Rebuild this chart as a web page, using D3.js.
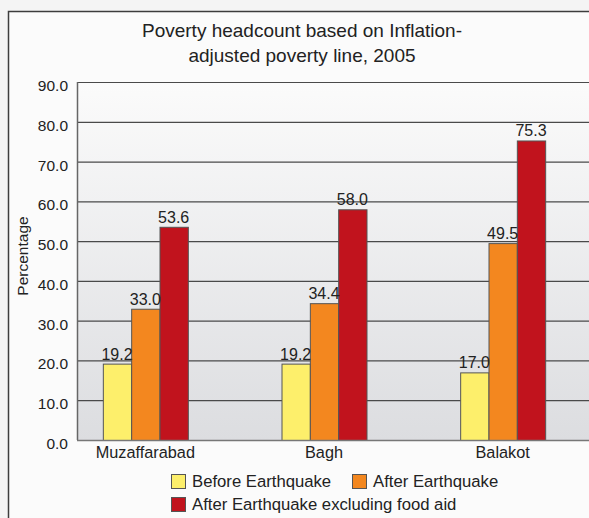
<!DOCTYPE html>
<html>
<head>
<meta charset="utf-8">
<script src="https://cdn.jsdelivr.net/npm/d3@7"></script>
<style>
  html, body { margin: 0; padding: 0; background: #f4f4f4; }
  svg { display: block; font-family: "Liberation Sans", Arial, sans-serif; }
</style>
</head>
<body>
<div id="chart"></div>
<script>
// Poverty headcount, inflation-adjusted poverty line, 2005

const width = 589, height = 518;

const categories = ["Muzaffarabad", "Bagh", "Balakot"];
const seriesNames = ["Before Earthquake", "After Earthquake", "After Earthquake excluding food aid"];
const beforeQuake = [19.2, 19.2, 17.0];
const afterQuake = [33.0, 34.4, 49.5];
const afterNoFoodAid = [53.6, 58.0, 75.3];
const yTicks = [0, 10, 20, 30, 40, 50, 60, 70, 80, 90];
const colors = ["#fdef6b", "#f3871f", "#c1131d"];

const plot = { left: 77, top: 82, bottom: 440, right: 600 };

const svg = d3.select("#chart")
  .append("svg")
  .attr("width", width)
  .attr("height", height);

const defs = svg.append("defs");
const grad = defs.append("linearGradient")
  .attr("id", "plotbg")
  .attr("x1", 0).attr("y1", 0).attr("x2", 0).attr("y2", 1);
grad.append("stop").attr("offset", "0%").attr("stop-color", "#fbfbfb");
grad.append("stop").attr("offset", "100%").attr("stop-color", "#dcdde0");

// outer frame
svg.append("rect")
  .attr("x", 8.5).attr("y", 11.5)
  .attr("width", 640).attr("height", 540)
  .attr("fill", "#fbfbfb")
  .attr("stroke", "#3d3d3d")
  .attr("stroke-width", 1.5);

// title
svg.append("g")
  .attr("fill", "#222")
  .attr("font-size", 19)
  .attr("text-anchor", "middle")
  .selectAll("text")
  .data(["Poverty headcount based on Inflation-", "adjusted poverty line, 2005"])
  .join("text")
  .attr("x", 302)
  .attr("y", (d, i) => 37 + i * 25)
  .text(d => d);

const y = d3.scaleLinear()
  .domain([0, 90])
  .range([plot.bottom, plot.top]);

const x0 = d3.scaleBand()
  .domain(categories)
  .range([56, 592]);

const groupWidth = 85;
const x1 = d3.scaleBand()
  .domain(seriesNames)
  .range([0, groupWidth]);

// plot background
svg.append("rect")
  .attr("x", plot.left).attr("y", plot.top)
  .attr("width", plot.right - plot.left)
  .attr("height", plot.bottom - plot.top)
  .attr("fill", "url(#plotbg)");

// gridlines
svg.append("g")
  .selectAll("line")
  .data(yTicks.filter(d => d > 0))
  .join("line")
  .attr("x1", plot.left).attr("x2", plot.right)
  .attr("y1", d => y(d) + 0.5).attr("y2", d => y(d) + 0.5)
  .attr("stroke", "#4a4a4a")
  .attr("stroke-width", 1.2);

// tick labels
svg.append("g")
  .attr("fill", "#222")
  .attr("font-size", 15.5)
  .attr("text-anchor", "end")
  .selectAll("text")
  .data(yTicks)
  .join("text")
  .attr("x", 68)
  .attr("y", d => y(d) + 9)
  .text(d => d.toFixed(1));

// bars
const rows = categories.map((c, i) => ({
  category: c,
  values: [beforeQuake[i], afterQuake[i], afterNoFoodAid[i]]
}));

const groups = svg.append("g")
  .selectAll("g")
  .data(rows)
  .join("g")
  .attr("transform", d => `translate(${x0(d.category) + (x0.bandwidth() - groupWidth) / 2},0)`);

groups.selectAll("rect")
  .data(d => d.values.map((v, j) => ({ key: seriesNames[j], value: v, j })))
  .join("rect")
  .attr("x", d => x1(d.key) + 0.5)
  .attr("y", d => y(d.value) + 0.5)
  .attr("width", x1.bandwidth())
  .attr("height", d => y(0) - y(d.value))
  .attr("fill", d => colors[d.j])
  .attr("stroke", "#555")
  .attr("stroke-width", 1);

groups.selectAll("text")
  .data(d => d.values.map((v, j) => ({ key: seriesNames[j], value: v })))
  .join("text")
  .attr("x", d => x1(d.key) + x1.bandwidth() / 2)
  .attr("y", d => y(d.value) - 4)
  .attr("text-anchor", "middle")
  .attr("font-size", 16)
  .attr("fill", "#222")
  .text(d => d.value.toFixed(1));

// axes lines
svg.append("line")
  .attr("x1", plot.left + 0.5).attr("x2", plot.left + 0.5)
  .attr("y1", plot.top).attr("y2", plot.bottom)
  .attr("stroke", "#666").attr("stroke-width", 1.5);
svg.append("line")
  .attr("x1", plot.left).attr("x2", plot.right)
  .attr("y1", plot.bottom + 0.5).attr("y2", plot.bottom + 0.5)
  .attr("stroke", "#777").attr("stroke-width", 1.5);

// category labels
svg.append("g")
  .attr("fill", "#222")
  .attr("font-size", 16.3)
  .attr("text-anchor", "middle")
  .selectAll("text")
  .data(categories)
  .join("text")
  .attr("x", d => x0(d) + x0.bandwidth() / 2)
  .attr("y", 458)
  .text(d => d);

// y axis title
svg.append("text")
  .attr("transform", "translate(28,256) rotate(-90)")
  .attr("text-anchor", "middle")
  .attr("font-size", 15.5)
  .attr("fill", "#222")
  .text("Percentage");

// legend
const legendPos = [[171, 474], [352, 474], [171, 497]];
const legend = svg.append("g")
  .selectAll("g")
  .data(seriesNames)
  .join("g")
  .attr("transform", (d, i) => `translate(${legendPos[i][0]},${legendPos[i][1]})`);

legend.append("rect")
  .attr("x", 0.5).attr("y", 0.5)
  .attr("width", 14).attr("height", 14)
  .attr("fill", (d, i) => colors[i])
  .attr("stroke", "#555");

legend.append("text")
  .attr("x", 21)
  .attr("y", 13)
  .attr("font-size", 16.7)
  .attr("fill", "#222")
  .text(d => d);
</script>
</body>
</html>
